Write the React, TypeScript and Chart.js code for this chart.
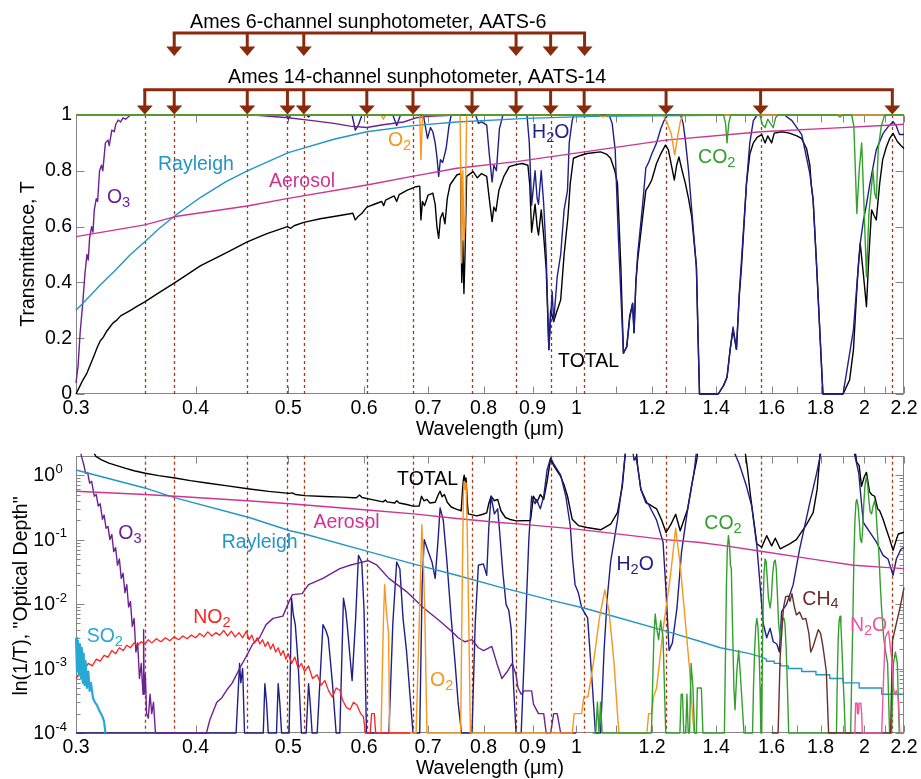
import React, { useEffect, useRef } from 'react';
import { Chart, registerables } from 'chart.js';

Chart.register(...registerables);

type P = [number, number];
const F = 0.0001; // floor of the optical-depth panel

// ---------- channels & ticks ----------
const AATS6: number[] = [0.38, 0.453, 0.519, 0.865, 0.94, 1.02];
const AATS14: number[] = [0.354, 0.38, 0.453, 0.499, 0.519, 0.604, 0.675, 0.778, 0.865, 0.94, 1.019, 1.241, 1.558, 2.139];
const X_TICKS: number[] = [0.3, 0.4, 0.5, 0.6, 0.7, 0.8, 0.9, 1, 1.2, 1.4, 1.6, 1.8, 2, 2.2];
const X_MINOR: number[] = [1.1, 1.3, 1.5, 1.7, 1.9, 2.1];
const T_TICKS: number[] = [0, 0.2, 0.4, 0.6, 0.8, 1];
const TAU_DECADES: number[] = [-4, -3, -2, -1, 0];

// ---------- top panel: transmittance ----------
const TOTAL_T: P[] = [[0.3,0],[0.302,0.02],[0.305,0.05],[0.308,0.075],[0.311,0.11],[0.3135,0.14],[0.316,0.17],[0.318,0.19],[0.3205,0.205],[0.323,0.225],[0.3255,0.24],[0.328,0.255],[0.331,0.265],[0.334,0.28],[0.338,0.29],[0.342,0.3],[0.347,0.313],[0.354,0.33],[0.365,0.36],[0.381,0.4],[0.405,0.46],[0.43,0.505],[0.453,0.545],[0.475,0.575],[0.499,0.6],[0.503,0.594],[0.507,0.603],[0.519,0.615],[0.54,0.628],[0.558,0.636],[0.578,0.645],[0.584,0.648],[0.5875,0.624],[0.591,0.635],[0.597,0.648],[0.604,0.67],[0.615,0.68],[0.626,0.69],[0.629,0.675],[0.632,0.695],[0.645,0.71],[0.649,0.69],[0.653,0.715],[0.665,0.73],[0.68,0.743],[0.686,0.745],[0.688,0.624],[0.6905,0.69],[0.694,0.675],[0.7,0.713],[0.708,0.72],[0.712,0.68],[0.715,0.6],[0.718,0.558],[0.721,0.63],[0.725,0.65],[0.729,0.61],[0.733,0.7],[0.738,0.75],[0.75,0.785],[0.757,0.79],[0.759,0.4],[0.761,0.55],[0.763,0.36],[0.765,0.5],[0.768,0.78],[0.78,0.797],[0.788,0.775],[0.796,0.79],[0.806,0.78],[0.811,0.7],[0.8165,0.618],[0.82,0.67],[0.824,0.655],[0.83,0.73],[0.84,0.78],[0.851,0.815],[0.865,0.822],[0.878,0.826],[0.89,0.82],[0.894,0.75],[0.898,0.58],[0.9055,0.68],[0.91,0.6],[0.913,0.57],[0.919,0.66],[0.9245,0.565],[0.93,0.45],[0.936,0.16],[0.94,0.3],[0.947,0.26],[0.955,0.3],[0.963,0.337],[0.971,0.5],[0.98,0.635],[0.9855,0.755],[0.993,0.845],[1.01,0.855],[1.026,0.862],[1.06,0.868],[1.075,0.86],[1.086,0.845],[1.097,0.8],[1.104,0.755],[1.113,0.456],[1.12,0.146],[1.129,0.17],[1.137,0.28],[1.145,0.325],[1.149,0.22],[1.154,0.4],[1.159,0.48],[1.173,0.635],[1.182,0.73],[1.19,0.745],[1.199,0.767],[1.213,0.827],[1.225,0.86],[1.239,0.892],[1.248,0.875],[1.257,0.82],[1.266,0.767],[1.273,0.82],[1.28,0.85],[1.29,0.8],[1.3,0.755],[1.31,0.7],[1.32,0.635],[1.335,0.456],[1.34,0.22],[1.345,0],[1.407,0],[1.425,0.03],[1.437,0.06],[1.448,0.16],[1.458,0.23],[1.47,0.16],[1.48,0.35],[1.488,0.456],[1.506,0.755],[1.518,0.86],[1.531,0.9],[1.545,0.92],[1.562,0.93],[1.575,0.9],[1.585,0.925],[1.6,0.9],[1.61,0.935],[1.64,0.94],[1.67,0.935],[1.7,0.925],[1.72,0.915],[1.74,0.88],[1.754,0.82],[1.76,0.75],[1.768,0.695],[1.783,0.456],[1.804,0.1],[1.81,0],[1.9,0],[1.93,0.05],[1.948,0.158],[1.96,0.32],[1.97,0.45],[1.98,0.54],[1.995,0.43],[2.01,0.313],[2.022,0.5],[2.035,0.66],[2.047,0.64],[2.058,0.624],[2.075,0.755],[2.09,0.84],[2.109,0.886],[2.125,0.915],[2.143,0.934],[2.165,0.905],[2.185,0.89],[2.2,0.88]];

const H2O_T: P[] = [[0.3,1],[0.497,1],[0.5,0.985],[0.503,1],[0.522,1],[0.525,0.993],[0.528,1],[0.583,1],[0.5875,0.946],[0.592,0.965],[0.597,1],[0.643,1],[0.649,0.962],[0.655,1],[0.692,1],[0.699,0.916],[0.704,0.955],[0.708,0.94],[0.712,0.9],[0.715,0.85],[0.718,0.78],[0.721,0.84],[0.725,0.83],[0.731,0.88],[0.736,0.96],[0.74,1],[0.785,1],[0.79,0.97],[0.796,0.975],[0.806,0.964],[0.811,0.86],[0.8165,0.76],[0.82,0.82],[0.825,0.8],[0.831,0.95],[0.838,1],[0.888,1],[0.893,0.9],[0.898,0.677],[0.9055,0.8],[0.91,0.7],[0.913,0.68],[0.919,0.8],[0.9245,0.68],[0.93,0.5],[0.936,0.158],[0.9435,0.367],[0.947,0.26],[0.955,0.42],[0.963,0.5],[0.971,0.66],[0.979,0.73],[0.983,0.9],[0.99,0.98],[0.994,1],[1.082,1],[1.09,0.97],[1.098,0.875],[1.106,0.576],[1.12,0.146],[1.129,0.17],[1.137,0.27],[1.145,0.325],[1.149,0.22],[1.154,0.4],[1.159,0.5],[1.173,0.68],[1.182,0.81],[1.19,0.83],[1.199,0.86],[1.213,0.9],[1.225,0.95],[1.235,0.98],[1.245,1],[1.285,1],[1.293,0.97],[1.3,0.91],[1.31,0.8],[1.32,0.66],[1.335,0.456],[1.34,0.22],[1.345,0],[1.407,0],[1.425,0.03],[1.437,0.06],[1.448,0.16],[1.458,0.24],[1.47,0.16],[1.48,0.36],[1.488,0.48],[1.506,0.755],[1.518,0.9],[1.531,0.98],[1.545,1],[1.65,1],[1.68,0.98],[1.72,0.93],[1.754,0.79],[1.768,0.695],[1.783,0.456],[1.804,0.1],[1.81,0],[1.9,0],[1.948,0.23],[1.965,0.4],[1.98,0.54],[1.995,0.62],[2.01,0.68],[2.027,0.755],[2.058,0.875],[2.092,0.934],[2.12,0.96],[2.143,0.976],[2.16,0.96],[2.176,0.93],[2.2,0.93]];

const O3_T: P[] = [[0.3,0.04],[0.3015,0.1],[0.303,0.22],[0.305,0.33],[0.3065,0.43],[0.308,0.5],[0.309,0.48],[0.31,0.56],[0.3115,0.6],[0.3125,0.58],[0.3135,0.66],[0.315,0.7],[0.316,0.69],[0.3175,0.8],[0.319,0.82],[0.32,0.8],[0.322,0.9],[0.324,0.91],[0.325,0.89],[0.327,0.946],[0.329,0.94],[0.33,0.965],[0.332,0.982],[0.334,0.975],[0.336,0.99],[0.338,0.985],[0.342,1],[0.46,1],[0.5,0.99],[0.53,0.98],[0.558,0.97],[0.58,0.96],[0.604,0.955],[0.628,0.965],[0.66,0.975],[0.68,0.99],[0.7,0.995],[0.75,1],[2.2,1]];

const RAY_T: P[] = [[0.3,0.3],[0.31,0.35],[0.3178,0.39],[0.329,0.44],[0.342,0.5],[0.354,0.546],[0.367,0.595],[0.381,0.64],[0.405,0.705],[0.43,0.76],[0.453,0.8],[0.5,0.865],[0.558,0.913],[0.604,0.94],[0.676,0.962],[0.75,0.975],[0.887,0.988],[1.04,0.995],[1.4,0.999],[2.2,1]];

const AER_T: P[] = [[0.3,0.564],[0.354,0.606],[0.381,0.636],[0.453,0.674],[0.5,0.701],[0.604,0.749],[0.676,0.781],[0.75,0.809],[0.866,0.833],[1.02,0.868],[1.24,0.91],[1.56,0.94],[1.83,0.952],[2.14,0.964],[2.2,0.967]];

const O2_T: P[] = [[0.3,1],[0.625,1],[0.6285,0.985],[0.632,1],[0.686,1],[0.688,0.84],[0.6895,0.93],[0.691,1],[0.756,1],[0.759,0.47],[0.761,0.8],[0.763,0.55],[0.765,0.6],[0.768,1],[1.055,1],[1.066,0.993],[1.078,1],[1.232,1],[1.245,0.97],[1.257,0.93],[1.267,0.857],[1.277,0.93],[1.285,0.98],[1.293,1],[2.2,1]];

const CO2_T: P[] = [[0.3,1],[1.425,1],[1.432,0.97],[1.437,0.9],[1.443,0.97],[1.45,1],[1.555,1],[1.565,0.965],[1.575,0.955],[1.585,0.985],[1.595,0.97],[1.606,0.955],[1.615,0.99],[1.625,1],[1.875,1],[1.886,0.993],[1.895,1],[1.94,1],[1.95,0.96],[1.964,0.647],[1.975,0.8],[1.987,0.9],[1.997,0.7],[2.01,0.42],[2.022,0.65],[2.042,0.8],[2.05,0.72],[2.058,0.7],[2.068,0.88],[2.083,0.96],[2.1,1],[2.2,1]];

// ---------- bottom panel: optical depth ----------
const TOTAL_TAU: P[] = [[0.3,5],[0.31,3],[0.3147,1.95],[0.319,1.72],[0.3247,1.53],[0.331,1.4],[0.3375,1.28],[0.345,1.17],[0.3545,1.07],[0.366,0.98],[0.3807,0.9],[0.395,0.82],[0.411,0.754],[0.432,0.68],[0.4555,0.61],[0.477,0.56],[0.501,0.52],[0.505,0.53],[0.509,0.5],[0.5205,0.48],[0.545,0.465],[0.57,0.455],[0.585,0.445],[0.589,0.445],[0.5935,0.49],[0.597,0.45],[0.61,0.42],[0.628,0.385],[0.6315,0.41],[0.634,0.385],[0.646,0.37],[0.649,0.4],[0.653,0.37],[0.665,0.35],[0.675,0.33],[0.685,0.33],[0.689,0.47],[0.693,0.4],[0.698,0.42],[0.703,0.37],[0.712,0.38],[0.7175,0.5],[0.7205,0.563],[0.724,0.46],[0.728,0.5],[0.733,0.38],[0.74,0.32],[0.75,0.295],[0.758,0.28],[0.7605,0.6],[0.762,0.85],[0.7635,1.0],[0.765,0.8],[0.767,0.9],[0.769,0.4],[0.771,0.25],[0.787,0.233],[0.797,0.245],[0.806,0.26],[0.81,0.36],[0.8145,0.47],[0.821,0.4],[0.8275,0.42],[0.834,0.28],[0.843,0.22],[0.851,0.207],[0.865,0.195],[0.8955,0.198],[0.902,0.47],[0.9095,0.38],[0.917,0.5],[0.9245,0.42],[0.932,0.8],[0.94,1.8],[0.947,1.4],[0.955,1.15],[0.963,0.955],[0.971,0.7],[0.979,0.47],[0.99,0.207],[1.005,0.165],[1.026,0.154],[1.06,0.142],[1.086,0.173],[1.104,0.262],[1.117,0.67],[1.126,2.5],[1.155,2.5],[1.159,1.36],[1.168,0.6],[1.185,0.373],[1.2,0.33],[1.213,0.3],[1.228,0.2],[1.241,0.129],[1.255,0.17],[1.27,0.247],[1.284,0.137],[1.307,0.295],[1.322,0.8],[1.336,1.72],[1.34,2.5],[1.5,2.5],[1.51,1.2],[1.52,0.5],[1.531,0.22],[1.544,0.086],[1.562,0.076],[1.581,0.115],[1.6,0.08],[1.614,0.105],[1.633,0.072],[1.65,0.078],[1.671,0.086],[1.698,0.1],[1.737,0.164],[1.768,0.262],[1.785,0.6],[1.797,2.0],[1.8,2.5],[1.955,2.5],[1.963,1.6],[1.975,1.4],[1.986,0.67],[2.0,0.95],[2.01,1.1],[2.025,0.55],[2.035,0.5],[2.05,0.47],[2.065,0.3],[2.075,0.28],[2.092,0.207],[2.11,0.14],[2.126,0.1],[2.143,0.068],[2.16,0.1],[2.17,0.122],[2.2,0.13]];

const H2O_TAU: P[] = [[0.3,F],[0.441,F],[0.4447,0.0012],[0.446,0.0006],[0.448,0.001],[0.45,F],[0.4708,F],[0.4726,0.00058],[0.4745,0.0003],[0.4765,F],[0.486,F],[0.488,0.00058],[0.49,0.00028],[0.492,F],[0.501,F],[0.504,0.0123],[0.506,0.007],[0.5085,0.0048],[0.512,0.0012],[0.516,F],[0.522,F],[0.525,0.00058],[0.527,0.0003],[0.5295,F],[0.536,F],[0.5435,0.0048],[0.547,0.004],[0.5505,0.003],[0.556,0.0006],[0.561,F],[0.566,F],[0.571,0.0123],[0.574,0.008],[0.576,0.005],[0.583,0.00065],[0.588,0.006],[0.592,0.057],[0.5967,0.045],[0.6,0.008],[0.6035,F],[0.637,F],[0.643,0.005],[0.649,0.045],[0.654,0.035],[0.659,0.006],[0.6645,0.0019],[0.67,0.0004],[0.675,F],[0.686,F],[0.69,0.02],[0.6935,0.1],[0.699,0.07],[0.7065,0.045],[0.712,0.025],[0.717,0.1],[0.7205,0.31],[0.726,0.2],[0.732,0.05],[0.74,0.006],[0.747,0.0012],[0.7525,0.00029],[0.7585,F],[0.778,F],[0.784,0.005],[0.79,0.04],[0.7995,0.042],[0.806,0.028],[0.81,0.15],[0.8145,0.47],[0.821,0.25],[0.8275,0.3],[0.8305,0.164],[0.838,0.03],[0.8445,0.0098],[0.85,0.008],[0.855,0.004],[0.86,0.0005],[0.865,F],[0.8757,F],[0.885,0.005],[0.892,0.1],[0.898,0.47],[0.9055,0.36],[0.909,0.42],[0.913,0.35],[0.917,0.3],[0.9245,0.47],[0.932,1.2],[0.94,1.85],[0.947,1.5],[0.963,1.0],[0.975,0.47],[0.9855,0.164],[0.991,0.05],[0.997,0.02],[1.005,0.0148],[1.013,0.0087],[1.0275,0.0061],[1.039,0.00058],[1.047,F],[1.06,F],[1.069,0.0019],[1.077,0.012],[1.086,0.045],[1.104,0.2],[1.117,0.75],[1.126,2.5],[1.145,2.5],[1.149,1.7],[1.154,1.9],[1.159,1.36],[1.168,0.6],[1.182,0.373],[1.19,0.35],[1.199,0.28],[1.213,0.2],[1.232,0.091],[1.241,0.0156],[1.25,0.0019],[1.26,0.0025],[1.274,0.0087],[1.288,0.064],[1.307,0.295],[1.327,1.07],[1.336,2.5],[1.458,2.5],[1.477,1.6],[1.483,1.36],[1.506,0.67],[1.525,0.33],[1.544,0.08],[1.556,0.02],[1.568,0.005],[1.581,0.003],[1.594,0.0042],[1.606,0.0026],[1.62,0.0024],[1.63,0.0018],[1.639,0.0077],[1.658,0.0098],[1.685,0.02],[1.711,0.07],[1.754,0.373],[1.783,1.07],[1.804,2.5],[1.948,2.5],[1.973,1.07],[1.985,0.4],[1.995,0.184],[2.027,0.129],[2.059,0.091],[2.092,0.057],[2.117,0.05],[2.143,0.028],[2.16,0.05],[2.185,0.072],[2.2,0.075]];

const O3_TAU: P[] = [[0.3,5],[0.302,3.2],[0.304,1.95],[0.3055,1.5],[0.307,1.07],[0.3085,1.1],[0.31,0.75],[0.3115,0.8],[0.3135,0.47],[0.315,0.5],[0.3165,0.33],[0.318,0.36],[0.3197,0.207],[0.321,0.24],[0.3225,0.15],[0.324,0.16],[0.3255,0.1],[0.327,0.12],[0.3285,0.065],[0.33,0.075],[0.3315,0.04],[0.333,0.05],[0.3345,0.025],[0.336,0.03],[0.3375,0.015],[0.339,0.02],[0.3405,0.009],[0.342,0.011],[0.3435,0.0045],[0.345,0.006],[0.3465,0.0018],[0.348,0.0025],[0.3495,0.0007],[0.351,0.0012],[0.3525,0.0004],[0.353,0.004],[0.3535,0.0004],[0.3545,0.0008],[0.3555,0.0002],[0.357,0.00017],[0.3585,0.0004],[0.36,0.0002],[0.3615,0.0003],[0.3632,F],[0.4106,F],[0.414,0.00016],[0.421,0.0003],[0.426,0.00035],[0.431,0.00046],[0.437,0.0006],[0.4447,0.001],[0.4515,0.0015],[0.459,0.0024],[0.4665,0.003],[0.474,0.0048],[0.482,0.006],[0.4935,0.0065],[0.501,0.011],[0.505,0.014],[0.517,0.0145],[0.525,0.02],[0.5435,0.025],[0.566,0.0355],[0.58,0.04],[0.597,0.0448],[0.606,0.047],[0.619,0.04],[0.637,0.025],[0.6645,0.0156],[0.6925,0.0087],[0.7205,0.0054],[0.7435,0.0036],[0.7525,0.003],[0.765,0.0026],[0.778,0.0028],[0.79,0.0021],[0.8,0.0019],[0.816,0.0022],[0.826,0.0012],[0.836,0.0007],[0.847,0.0009],[0.857,0.0012],[0.865,0.0008],[0.869,0.0005],[0.8757,0.0004],[0.882,0.00045],[0.898,0.00045],[0.902,0.00028],[0.913,0.0002],[0.9245,0.0002],[0.93,F],[0.94,F],[0.947,0.0002],[0.955,0.0002],[0.963,F],[1.0,F]];

const RAY_TAU: P[] = [[0.3,1.2],[0.354,0.632],[0.381,0.444],[0.455,0.22],[0.502,0.137],[0.52,0.122],[0.6,0.068],[0.675,0.042],[0.75,0.028],[0.83,0.0185],[0.869,0.0156],[0.94,0.0115],[1.018,0.0087],[1.1,0.0063],[1.241,0.0038],[1.34,0.0027],[1.414,0.0021],[1.518,0.0017],[1.562,0.0015],[1.58,0.0014],[1.58,0.0013],[1.61,0.0013],[1.61,0.0012],[1.635,0.0012],[1.635,0.0011],[1.665,0.0011],[1.665,0.001],[1.72,0.001],[1.72,0.0009],[1.78,0.0009],[1.78,0.0008],[1.84,0.0008],[1.84,0.0007],[1.9,0.0007],[1.9,0.0006],[1.975,0.0006],[1.975,0.0005],[2.085,0.0005],[2.085,0.0004],[2.2,0.0004]];

const AER_TAU: P[] = [[0.3,0.563],[0.354,0.5],[0.381,0.47],[0.453,0.4],[0.502,0.36],[0.6,0.29],[0.676,0.25],[0.75,0.212],[0.83,0.184],[0.869,0.175],[1.0,0.145],[1.24,0.1],[1.34,0.091],[1.414,0.082],[1.56,0.066],[1.71,0.0535],[1.83,0.046],[1.95,0.04],[2.1,0.037],[2.2,0.0355]];

const SO2_TAU: P[] = [[0.3,0.003],[0.3007,0.0009],[0.3014,0.0027],[0.3021,0.0008],[0.3028,0.0024],[0.3035,0.0007],[0.3042,0.0021],[0.3049,0.0006],[0.3056,0.0017],[0.3063,0.00055],[0.307,0.0013],[0.308,0.0005],[0.309,0.0009],[0.31,0.00045],[0.311,0.0006],[0.3125,0.00035],[0.314,0.0003],[0.3155,0.00027],[0.317,0.00023],[0.3185,0.0002],[0.3197,0.00018],[0.321,0.00015],[0.322,F]];

const NO2_TAU: P[] = [[0.3,0.0007],[0.303,0.00085],[0.306,0.00095],[0.309,0.0012],[0.312,0.0011],[0.315,0.0014],[0.318,0.0013],[0.321,0.0016],[0.324,0.0015],[0.327,0.0019],[0.33,0.0017],[0.333,0.0021],[0.336,0.0019],[0.339,0.0023],[0.342,0.0021],[0.345,0.0025],[0.348,0.0023],[0.351,0.0026],[0.354,0.0024],[0.357,0.0028],[0.36,0.0025],[0.364,0.0029],[0.368,0.0026],[0.372,0.003],[0.376,0.0027],[0.38,0.0031],[0.384,0.0028],[0.388,0.0032],[0.392,0.0029],[0.396,0.0033],[0.4,0.003],[0.404,0.0035],[0.408,0.0031],[0.412,0.0037],[0.416,0.0032],[0.42,0.0036],[0.424,0.0033],[0.428,0.0039],[0.432,0.0032],[0.436,0.0038],[0.44,0.0031],[0.444,0.0036],[0.448,0.003],[0.452,0.0038],[0.455,0.0028],[0.458,0.0033],[0.461,0.0025],[0.464,0.003],[0.467,0.0024],[0.47,0.0028],[0.473,0.0022],[0.476,0.0026],[0.479,0.002],[0.482,0.0024],[0.485,0.0018],[0.488,0.0021],[0.491,0.0016],[0.494,0.0019],[0.497,0.0014],[0.5,0.0017],[0.504,0.0012],[0.508,0.0015],[0.512,0.001],[0.516,0.0012],[0.52,0.0009],[0.525,0.0011],[0.53,0.0007],[0.536,0.0008],[0.541,0.00055],[0.546,0.00065],[0.551,0.00045],[0.556,0.00036],[0.561,0.0005],[0.566,0.00046],[0.57,0.00032],[0.575,0.00025],[0.58,0.00023],[0.585,0.0003],[0.59,0.00027],[0.595,0.0002],[0.599,0.00018],[0.602,F],[0.609,F],[0.611,0.0002],[0.615,0.0002],[0.617,F],[0.67,F]];

const O2_TAU: P[] = [[0.62,F],[0.625,F],[0.6285,0.005],[0.6305,0.02],[0.633,0.008],[0.6365,0.0034],[0.638,F],[0.68,F],[0.684,0.002],[0.6875,0.03],[0.6895,0.17],[0.692,0.05],[0.695,0.004],[0.698,F],[0.757,F],[0.7595,0.01],[0.762,0.5],[0.7635,0.8],[0.765,0.6],[0.767,0.75],[0.769,0.15],[0.772,0.005],[0.775,F],[0.99,F],[0.995,0.0002],[1.013,0.0002],[1.018,0.00036],[1.028,0.00036],[1.035,0.00065],[1.044,0.0015],[1.057,0.006],[1.071,0.0166],[1.082,0.0077],[1.095,0.0012],[1.104,0.0002],[1.108,F],[1.185,F],[1.19,0.0002],[1.199,0.0002],[1.204,0.00036],[1.213,0.0005],[1.222,0.0013],[1.232,0.004],[1.241,0.0087],[1.255,0.03],[1.27,0.15],[1.284,0.04],[1.299,0.006],[1.313,0.001],[1.323,0.00018],[1.328,F],[1.34,F]];

const CO2_TAU: P[] = [[1.04,F],[1.048,F],[1.052,0.0003],[1.056,F],[1.06,0.0003],[1.064,F],[1.198,F],[1.205,0.003],[1.209,0.007],[1.214,0.004],[1.219,0.0028],[1.225,0.0055],[1.232,0.003],[1.24,F],[1.283,F],[1.287,0.0004],[1.291,0.0004],[1.295,F],[1.301,F],[1.305,0.0004],[1.309,F],[1.313,F],[1.318,0.0012],[1.324,0.0005],[1.329,F],[1.335,F],[1.338,0.0005],[1.351,0.0005],[1.356,F],[1.428,F],[1.432,0.002],[1.435,0.02],[1.438,0.07],[1.442,0.115],[1.446,0.08],[1.449,0.04],[1.452,0.035],[1.456,0.005],[1.461,0.0005],[1.465,0.00023],[1.472,0.001],[1.478,0.0019],[1.484,0.0008],[1.49,0.0003],[1.497,F],[1.528,F],[1.532,0.0006],[1.536,0.002],[1.54,0.0045],[1.544,0.006],[1.548,0.0045],[1.552,0.002],[1.556,0.0005],[1.559,F],[1.562,F],[1.565,0.002],[1.568,0.012],[1.571,0.03],[1.575,0.05],[1.579,0.045],[1.583,0.025],[1.588,0.012],[1.594,0.0087],[1.599,0.013],[1.604,0.03],[1.609,0.045],[1.614,0.048],[1.618,0.035],[1.622,0.015],[1.627,0.005],[1.633,0.003],[1.638,0.0045],[1.643,0.0058],[1.648,0.006],[1.652,0.005],[1.657,0.002],[1.662,0.0005],[1.667,F],[1.87,F],[1.874,0.0008],[1.878,0.003],[1.882,0.0055],[1.886,0.0065],[1.89,0.005],[1.895,0.002],[1.9,0.0007],[1.905,0.0003],[1.91,F],[1.935,F],[1.94,0.0008],[1.945,0.005],[1.95,0.05],[1.955,0.2],[1.96,0.38],[1.964,0.42],[1.97,0.33],[1.975,0.2],[1.981,0.1],[1.987,0.09],[1.992,0.15],[1.997,0.35],[2.003,0.7],[2.01,0.95],[2.016,0.7],[2.022,0.4],[2.028,0.27],[2.035,0.25],[2.042,0.33],[2.05,0.4],[2.056,0.3],[2.062,0.15],[2.07,0.07],[2.078,0.02],[2.085,0.008],[2.095,0.003],[2.105,0.0018],[2.115,0.0012],[2.125,F],[2.135,F],[2.145,0.0012],[2.155,0.0018],[2.165,0.0012],[2.175,F],[2.2,F]];

const CH4_TAU: P[] = [[1.6,F],[1.625,F],[1.633,0.0015],[1.646,0.0087],[1.655,0.013],[1.665,0.0133],[1.672,0.011],[1.68,0.0145],[1.69,0.009],[1.698,0.0068],[1.711,0.0075],[1.724,0.0058],[1.737,0.006],[1.75,0.0035],[1.758,0.0018],[1.768,0.0022],[1.79,0.004],[1.8,0.0035],[1.81,0.0022],[1.825,0.0009],[1.835,F],[2.13,F],[2.14,0.0027],[2.16,0.005],[2.18,0.009],[2.2,0.018]];

const N2O_TAU: P[] = [[1.95,F],[1.955,F],[1.958,0.00029],[1.965,0.00029],[1.967,0.0002],[1.972,0.0002],[1.975,0.00029],[1.983,0.00029],[1.987,0.0002],[1.99,F],[2.085,F],[2.095,0.0008],[2.103,0.003],[2.112,0.0035],[2.12,0.0038],[2.13,0.002],[2.139,0.0012],[2.145,0.0005],[2.15,0.0004],[2.16,0.00045],[2.17,0.00035],[2.178,F],[2.2,F]];

// ---------- styling ----------
const FONT = '"Liberation Sans", Arial, Helvetica, sans-serif';
const FS = 19.5;
const FRAME = '#858585';
const CHANNEL = '#a23a1a';
const ARROW = '#8a2a0c';
const C = {
  total: '#000000',
  h2o: '#1f1f88',
  o3: '#6c2294',
  ray: '#2396c6',
  aer: '#cf3393',
  o2: '#f8961e',
  co2: '#33a02c',
  no2: '#ff2222',
  so2: '#27a9d3',
  ch4: '#6b2e2a',
  n2o: '#f2559f',
};

type Label = { text: string; x: number; y: number; color: string };
const TOP_LABELS: Label[] = [
  { text: 'O3', x: 0.3232, y: 0.685, color: C.o3 },
  { text: 'Rayleigh', x: 0.3654, y: 0.803, color: C.ray },
  { text: 'Aerosol', x: 0.4773, y: 0.742, color: C.aer },
  { text: 'O2', x: 0.6354, y: 0.889, color: C.o2 },
  { text: 'H2O', x: 0.899, y: 0.9176, color: C.h2o },
  { text: 'CO2', x: 1.3405, y: 0.828, color: C.co2 },
  { text: 'TOTAL', x: 0.957, y: 0.0968, color: C.total },
];
const BOTTOM_LABELS: Label[] = [
  { text: 'TOTAL', x: 0.6497, y: 0.703, color: C.total },
  { text: 'Aerosol', x: 0.5312, y: 0.149, color: C.aer },
  { text: 'Rayleigh', x: 0.426, y: 0.0736, color: C.ray },
  { text: 'O3', x: 0.3321, y: 0.101, color: C.o3 },
  { text: 'SO2', x: 0.3078, y: 0.00258, color: C.so2 },
  { text: 'NO2', x: 0.3978, y: 0.00504, color: C.no2 },
  { text: 'O2', x: 0.7032, y: 0.00053, color: C.o2 },
  { text: 'H2O', x: 1.1015, y: 0.0339, color: C.h2o },
  { text: 'CO2', x: 1.3608, y: 0.1436, color: C.co2 },
  { text: 'CH4', x: 1.7227, y: 0.00984, color: C.ch4 },
  { text: 'N2O', x: 1.9315, y: 0.00383, color: C.n2o },
];

function ds(label: string, data: P[], color: string, width = 1.4) {
  return {
    label,
    data: data.map(([x, y]) => ({ x, y })),
    borderColor: color,
    backgroundColor: color,
    borderWidth: width,
    pointRadius: 0,
    fill: false,
    tension: 0,
    clip: 2,
  };
}

function drawRich(ctx: any, text: string, x: number, y: number, color: string, size = FS) {
  ctx.fillStyle = color;
  ctx.textAlign = 'left';
  ctx.textBaseline = 'alphabetic';
  let cx = x;
  const runs = text.match(/\d+|\D+/g) || [];
  for (const r of runs) {
    const sub = /^\d+$/.test(r);
    const fs = sub ? size * 0.75 : size;
    ctx.font = `${fs}px ${FONT}`;
    ctx.fillText(r, cx, sub ? y + size * 0.2 : y);
    cx += ctx.measureText(r).width;
  }
}

function frameAndTicks(chart: any, yMajor: number[], yMinor: number[]) {
  const { ctx, chartArea: a, scales } = chart;
  const xs = scales.x;
  const ys = scales.y;
  const L = Math.round(a.left) + 0.5;
  const R = Math.round(a.right) - 0.5;
  const T = Math.round(a.top) + 0.5;
  const B = Math.round(a.bottom) - 0.5;
  ctx.save();
  ctx.strokeStyle = FRAME;
  ctx.lineWidth = 1;
  ctx.setLineDash([]);
  ctx.strokeRect(L, T, R - L, B - T);
  ctx.beginPath();
  for (const v of [...X_TICKS, ...X_MINOR]) {
    const px = Math.round(xs.getPixelForValue(v)) + 0.5;
    ctx.moveTo(px, B); ctx.lineTo(px, B - 7);
    ctx.moveTo(px, T); ctx.lineTo(px, T + 7);
  }
  for (const v of yMajor) {
    const py = Math.round(ys.getPixelForValue(v)) + 0.5;
    ctx.moveTo(L, py); ctx.lineTo(L + 8, py);
    ctx.moveTo(R, py); ctx.lineTo(R - 8, py);
  }
  for (const v of yMinor) {
    const py = Math.round(ys.getPixelForValue(v)) + 0.5;
    ctx.moveTo(L, py); ctx.lineTo(L + 4, py);
    ctx.moveTo(R, py); ctx.lineTo(R - 4, py);
  }
  ctx.stroke();
  // channel lines
  ctx.strokeStyle = CHANNEL;
  ctx.lineWidth = 1.3;
  ctx.setLineDash([3, 3]);
  ctx.beginPath();
  for (const w of AATS14) {
    const px = Math.round(xs.getPixelForValue(w)) + 0.5;
    ctx.moveTo(px, a.top); ctx.lineTo(px, a.bottom);
  }
  ctx.stroke();
  ctx.restore();
}

function xTitle(chart: any) {
  const { ctx, chartArea: a } = chart;
  ctx.save();
  ctx.fillStyle = '#000';
  ctx.font = `${FS}px ${FONT}`;
  ctx.textAlign = 'center';
  ctx.textBaseline = 'alphabetic';
  ctx.fillText('Wavelength (\u03bcm)', (a.left + a.right) / 2, a.bottom + 41);
  ctx.restore();
}

function yTitle(chart: any, text: string, x: number, yc: number) {
  const { ctx } = chart;
  ctx.save();
  ctx.translate(x, yc);
  ctx.rotate(-Math.PI / 2);
  ctx.fillStyle = '#000';
  ctx.font = `${FS}px ${FONT}`;
  ctx.textAlign = 'center';
  ctx.textBaseline = 'alphabetic';
  ctx.fillText(text, 0, 0);
  ctx.restore();
}

const topDecor = {
  id: 'topDecor',
  beforeDatasetsDraw(chart: any) {
    frameAndTicks(chart, T_TICKS, []);
  },
  afterDatasetsDraw(chart: any) {
    const { ctx, scales } = chart;
    const xs = scales.x;
    const ys = scales.y;
    ctx.save();
    for (const l of TOP_LABELS) drawRich(ctx, l.text, xs.getPixelForValue(l.x), ys.getPixelForValue(l.y), l.color);
    // brackets with arrows
    ctx.strokeStyle = ARROW;
    ctx.fillStyle = ARROW;
    ctx.lineWidth = 3;
    ctx.setLineDash([]);
    const specs = [
      { ch: AATS6, bar: 33, base: 46.5, tip: 56 },
      { ch: AATS14, bar: 89.7, base: 105.5, tip: 114.5 },
    ];
    for (const s of specs) {
      const px = s.ch.map((v) => xs.getPixelForValue(v));
      ctx.beginPath();
      ctx.moveTo(Math.min(...px) - 1.5, s.bar);
      ctx.lineTo(Math.max(...px) + 1.5, s.bar);
      ctx.stroke();
      for (const p of px) {
        ctx.beginPath();
        ctx.moveTo(p, s.bar);
        ctx.lineTo(p, s.base + 1);
        ctx.stroke();
        ctx.beginPath();
        ctx.moveTo(p - 8, s.base);
        ctx.lineTo(p + 8, s.base);
        ctx.lineTo(p, s.tip);
        ctx.closePath();
        ctx.fill();
      }
    }
    ctx.fillStyle = '#000';
    ctx.font = `19.7px ${FONT}`;
    ctx.textAlign = 'left';
    ctx.textBaseline = 'alphabetic';
    ctx.fillText('Ames 6-channel sunphotometer, AATS-6', 190, 28);
    ctx.fillText('Ames 14-channel sunphotometer, AATS-14', 228, 83.3);
    ctx.restore();
    xTitle(chart);
    yTitle(chart, 'Transmittance, T', 34, 254);
  },
};

const TAU_MAJOR = TAU_DECADES.map((d) => Math.pow(10, d));
const TAU_MINOR: number[] = [];
for (const d of TAU_DECADES) for (let m = 2; m <= 9; m++) { const v = m * Math.pow(10, d); if (v < 2) TAU_MINOR.push(v); }

const bottomDecor = {
  id: 'bottomDecor',
  beforeDatasetsDraw(chart: any) {
    frameAndTicks(chart, TAU_MAJOR, TAU_MINOR);
  },
  afterDatasetsDraw(chart: any) {
    const { ctx, scales } = chart;
    const xs = scales.x;
    const ys = scales.y;
    ctx.save();
    for (const l of BOTTOM_LABELS) drawRich(ctx, l.text, xs.getPixelForValue(l.x), ys.getPixelForValue(l.y), l.color);
    // y tick labels 10^n
    ctx.fillStyle = '#000';
    for (const d of TAU_DECADES) {
      const py = ys.getPixelForValue(Math.pow(10, d));
      ctx.font = `${FS}px ${FONT}`;
      ctx.textAlign = 'right';
      ctx.textBaseline = 'middle';
      ctx.fillText('10', 55, py + 1);
      ctx.font = `13px ${FONT}`;
      ctx.textAlign = 'left';
      ctx.textBaseline = 'alphabetic';
      ctx.fillText(d === 0 ? '0' : '-' + Math.abs(d), 55.5, py - 2.5);
    }
    ctx.restore();
    xTitle(chart);
    yTitle(chart, 'ln(1/T), "Optical Depth"', 27, 156);
  },
};

function xScale(height: number) {
  return {
    type: 'logarithmic',
    min: 0.3,
    max: 2.2,
    bounds: 'data',
    grid: { display: false, drawTicks: false, tickLength: 0 },
    border: { display: false },
    afterBuildTicks: (s: any) => { s.ticks = X_TICKS.map((v) => ({ value: v })); },
    afterFit: (s: any) => { s.height = height; },
    ticks: {
      autoSkip: false,
      maxRotation: 0,
      minRotation: 0,
      padding: 3,
      color: '#000',
      font: { family: FONT, size: FS },
      callback: (v: any) => String(Number(v)),
    },
  };
}

function baseOptions(pad: any, yCfg: any, xHeight: number) {
  return {
    responsive: false,
    maintainAspectRatio: false,
    animation: false,
    devicePixelRatio: 1,
    events: [],
    layout: { padding: pad },
    plugins: { legend: { display: false }, tooltip: { enabled: false }, title: { display: false } },
    elements: { point: { radius: 0 }, line: { tension: 0, borderJoinStyle: 'round' } },
    scales: { x: xScale(xHeight), y: yCfg },
  };
}

export default function App() {
  const topRef = useRef<HTMLCanvasElement>(null);
  const botRef = useRef<HTMLCanvasElement>(null);

  useEffect(() => {
    const top = new Chart(topRef.current as HTMLCanvasElement, {
      type: 'line',
      data: {
        datasets: [
          ds('CO2', CO2_T, C.co2),
          ds('O2', O2_T, C.o2),
          ds('Aerosol', AER_T, C.aer),
          ds('Rayleigh', RAY_T, C.ray),
          ds('O3', O3_T, C.o3),
          ds('H2O', H2O_T, C.h2o),
          ds('TOTAL', TOTAL_T, C.total),
        ],
      },
      options: baseOptions(
        { left: 0, right: 17, top: 115, bottom: 0 },
        {
          type: 'linear',
          min: 0,
          max: 1,
          bounds: 'data',
          grid: { display: false, drawTicks: false, tickLength: 0 },
          border: { display: false },
          afterBuildTicks: (s: any) => { s.ticks = T_TICKS.map((v) => ({ value: v })); },
          afterFit: (s: any) => { s.width = 76; },
          ticks: { padding: 4, color: '#000', font: { family: FONT, size: FS }, callback: (v: any) => String(Number(v)) },
        },
        46,
      ) as any,
      plugins: [topDecor],
    } as any);

    const bottom = new Chart(botRef.current as HTMLCanvasElement, {
      type: 'line',
      data: {
        datasets: [
          ds('SO2', SO2_TAU, C.so2, 2.2),
          ds('NO2', NO2_TAU, C.no2, 1.3),
          ds('N2O', N2O_TAU, C.n2o),
          ds('CH4', CH4_TAU, C.ch4),
          ds('CO2', CO2_TAU, C.co2),
          ds('O2', O2_TAU, C.o2),
          ds('Aerosol', AER_TAU, C.aer),
          ds('Rayleigh', RAY_TAU, C.ray),
          ds('O3', O3_TAU, C.o3),
          ds('H2O', H2O_TAU, C.h2o),
          ds('TOTAL', TOTAL_TAU, C.total),
        ],
      },
      options: baseOptions(
        { left: 0, right: 17, top: 13, bottom: 0 },
        {
          type: 'logarithmic',
          min: 0.0001,
          max: 2,
          bounds: 'data',
          grid: { display: false, drawTicks: false, tickLength: 0 },
          border: { display: false },
          afterBuildTicks: (s: any) => { s.ticks = TAU_MAJOR.map((v) => ({ value: v })); },
          afterFit: (s: any) => { s.width = 76; },
          ticks: { padding: 4, color: '#000', font: { family: FONT, size: FS }, callback: () => '' },
        },
        46,
      ) as any,
      plugins: [bottomDecor],
    } as any);

    return () => {
      top.destroy();
      bottom.destroy();
    };
  }, []);

  return (
    <div style={{ position: 'absolute', left: 0, top: 0, width: 921, height: 779, background: '#ffffff', overflow: 'hidden' }}>
      <canvas ref={topRef} width={921} height={440} style={{ position: 'absolute', left: 0, top: 0, width: 921, height: 440 }} />
      <canvas ref={botRef} width={921} height={339} style={{ position: 'absolute', left: 0, top: 440, width: 921, height: 339 }} />
    </div>
  );
}
